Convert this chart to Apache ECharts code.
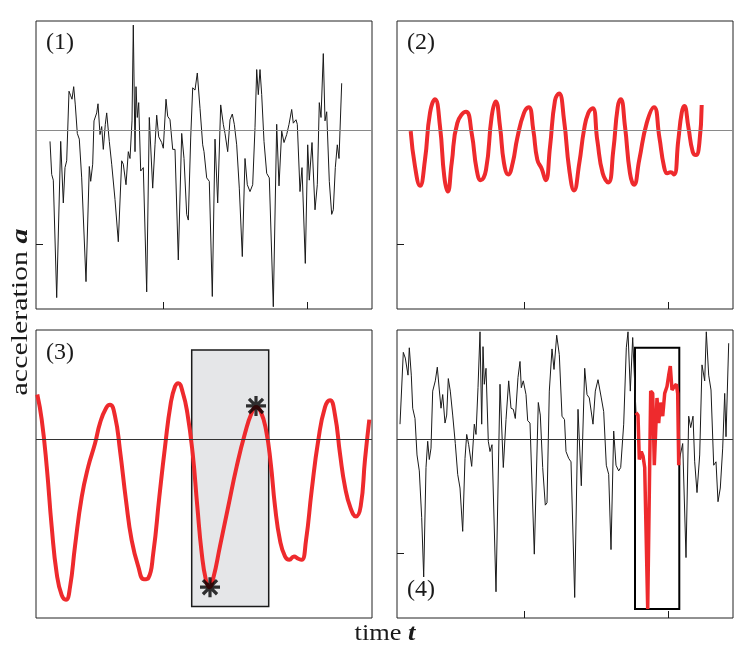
<!DOCTYPE html>
<html>
<head>
<meta charset="utf-8">
<script src="https://cdn.jsdelivr.net/npm/echarts@6/dist/echarts.min.js"></script>
<style>
  html, body { margin: 0; padding: 0; background: #fff; }
  #graph { width: 741px; height: 649px; }
</style>
</head>
<body>
<div id="graph"></div>
<script>
// time in samples from the left edge of each panel, acceleration in units of the axis tick
var p1Time = [14, 15.7, 17.3, 20.7, 24.7, 27.3, 29, 30.7, 33, 34.7, 36, 37.7, 39.3, 41.3, 43.3, 45.7, 50, 53.3, 54.7, 56.7,
    58, 60.7, 62, 64, 65.7, 67.3, 69.3, 70.7, 73.3, 75.7, 79, 82.3, 85.7, 87.3, 90, 92.3, 94, 96, 97.3, 99,
    100, 101.3, 102.7, 104.7, 107.3, 110.7, 113.3, 116.7, 119, 120.7, 122.7, 125.7, 127.3, 130, 131.7, 134, 136.7, 139, 142.3, 145.7,
    148, 150.7, 152.3, 154.7, 156.7, 159, 161.3, 164, 166.7, 168, 170.7, 173.3, 176.3, 179, 181.7, 184.7, 187.3, 189, 191.7, 194,
    196.3, 198.3, 200.7, 203.3, 206.3, 209, 211.3, 214, 216.7, 219, 220.7, 222.3, 224, 225.7, 228, 230.7, 233.3, 237.3, 240.7, 243,
    245.7, 248, 250.7, 253, 255.7, 257.3, 260, 261.3, 264, 266, 269.3, 271.7, 273.3, 276, 279, 281.3, 283.3, 285, 287.3, 289,
    290.7, 293.3, 295.7, 297.3, 299.3, 301.3, 303, 305.7];
var p1Acc = [-0.10, -0.39, -0.44, -1.47, -0.10, -0.64, -0.33, -0.27, 0.34, 0.30, 0.27, 0.38, 0.22, -0.03, -0.08, -0.42, -1.33, -0.32, -0.45, -0.30,
    0.08, 0.15, 0.23, -0.04, 0.03, -0.17, 0.05, 0.15, -0.10, -0.30, -0.61, -0.98, -0.27, -0.30, -0.48, -0.19, -0.25, 0.08, 0.92, -0.19,
    0.38, 0.11, 0.24, -0.36, -0.33, -1.42, 0.11, -0.51, -0.13, 0.13, -0.06, -0.11, -0.16, 0.27, 0.12, 0.09, -0.17, -0.17, -1.14, -0.03,
    -0.25, -0.74, -0.79, -0.07, 0.37, 0.35, 0.50, 0.19, -0.13, -0.19, -0.42, -0.45, -1.46, -0.08, -0.64, 0.22, 0.05, -0.03, -0.19, 0.09,
    0.14, 0.05, -0.13, -0.51, -1.11, -0.25, -0.48, -0.54, -0.48, 0.02, 0.53, 0.31, 0.53, 0.31, -0.10, -0.38, -0.42, -1.55, 0.05, -0.49,
    -0.01, -0.11, -0.04, 0.05, 0.18, 0.06, 0.09, 0.05, -0.54, -0.33, -1.17, -0.13, -0.44, -0.11, -0.70, -0.48, 0.24, 0.11, 0.67, 0.08,
    0.16, -0.45, -0.74, -0.70, -0.33, -0.13, -0.25, 0.41];

var p2Time = [13.7, 18, 23, 28, 33, 38, 43, 47.3, 50.7, 54.7, 60.3, 69, 74.7, 79.7, 83.7, 89, 94.7, 98.7, 103, 107,
    111.3, 115.7, 120.3, 127, 131.7, 136.3, 140.3, 144.7, 148.7, 153, 158, 162, 167, 172.3, 177, 182.3, 187, 191.3, 195.7, 200.3,
    205.7, 211.3, 216.3, 220.7, 223.7, 228, 233, 237, 242.3, 249.7, 257, 262.3, 267, 270.3, 273.7, 277, 281.3, 284.7, 287.3, 291.3,
    295.7, 299, 302.3, 304.7];
var p2Acc = [-0.01, -0.32, -0.49, -0.26, 0.15, 0.27, 0.03, -0.41, -0.54, -0.29, 0.06, 0.16, -0.03, -0.35, -0.44, -0.35, 0.12, 0.25, 0.03, -0.29,
    -0.39, -0.29, -0.07, 0.15, 0.20, 0.00, -0.26, -0.34, -0.44, -0.15, 0.26, 0.32, 0.09, -0.35, -0.53, -0.29, 0.00, 0.15, 0.19, -0.09,
    -0.38, -0.46, -0.18, 0.20, 0.27, 0.03, -0.38, -0.48, -0.26, 0.06, 0.20, -0.06, -0.32, -0.38, -0.37, -0.39, -0.09, 0.15, 0.21, 0.03,
    -0.19, -0.22, -0.12, 0.22];

var p3Time = [1.3, 5.7, 10.7, 15.7, 20.7, 25.7, 30, 34, 39, 45.7, 52.3, 59, 64, 70, 74, 79, 84, 90, 95.7, 102.3,
    108, 112.3, 117.3, 123.3, 129, 134.7, 139, 142.3, 146.7, 151.3, 156.7, 161.3, 165.7, 170, 173.3, 177.3, 184, 192.3, 200.7, 209,
    215.7, 220, 224.7, 230, 234.7, 239, 244, 249, 253.3, 258, 262.3, 265.7, 270, 275.7, 282.3, 289, 294, 299, 304, 309,
    314.7, 320, 324.7, 329, 333.3];
var p3Acc = [0.39, 0.17, -0.24, -0.77, -1.18, -1.37, -1.41, -1.30, -0.94, -0.51, -0.24, -0.04, 0.14, 0.27, 0.30, 0.20, -0.10, -0.54, -0.89, -1.12,
    -1.23, -1.22, -1.00, -0.51, -0.07, 0.31, 0.46, 0.49, 0.41, 0.23, -0.13, -0.59, -1.00, -1.24, -1.30, -1.22, -0.94, -0.59, -0.24, 0.05,
    0.23, 0.28, 0.24, 0.08, -0.21, -0.59, -0.89, -1.03, -1.06, -1.03, -1.05, -1.06, -0.89, -0.45, -0.01, 0.28, 0.34, 0.21, -0.13, -0.42,
    -0.61, -0.68, -0.59, -0.18, 0.17];
// marked extrema and the selected window
var p3StarTime = [174, 220];
var p3StarAcc = [-1.30, 0.29];
var p3Window = [155.7, 232.7, 0.78, -1.47];

var p4BeforeTime = [3, 6.3, 8.3, 10, 11, 12.3, 14.3, 15.7, 18, 20, 22.3, 24.7, 26.7, 29, 30.7, 32.3, 34, 35.7, 38.3, 40.3,
    42.3, 44, 45.7, 48, 49.7, 51.3, 53.3, 55.7, 58.3, 60.7, 63, 65.7, 68, 69.7, 71.7, 74.7, 77.3, 79, 81, 83,
    84.7, 86, 87.3, 89, 91.3, 93, 95, 99, 103, 106.3, 109, 111.7, 114, 116.3, 118.3, 121, 123, 124.3, 126.3, 129,
    130.7, 133, 137.3, 141.3, 143.3, 145.7, 148.3, 150, 152.3, 155, 157, 159.7, 162.3, 165, 167.5, 169, 171.7, 174, 177.7, 181,
    184.3, 187.7, 190, 192.3, 196, 198.3, 201, 204.3, 206.7, 209.3, 211.7, 214, 216.7, 219, 221.7, 223.7, 226.7, 229.3, 231, 233.3,
    235.7, 239];
var p4BeforeAcc = [0.13, 0.76, 0.71, 0.70, 0.56, 0.80, 0.56, 0.27, 0.18, -0.14, -0.28, -0.69, -1.21, -0.25, -0.02, -0.18, -0.08, 0.42, 0.51, 0.63,
    0.43, 0.27, 0.39, 0.14, 0.21, 0.53, 0.42, 0.21, -0.04, -0.31, -0.43, -0.81, -0.17, 0.04, -0.05, -0.24, 0.13, 0.04, 0.45, 0.94,
    0.13, 0.81, 0.48, 0.62, -0.02, -0.11, -0.05, -1.34, 0.48, -0.25, 0.17, 0.51, 0.27, 0.26, 0.18, 0.54, 0.68, 0.45, 0.51, 0.39,
    0.16, 0.14, -1.01, 0.32, 0.21, -0.25, -0.58, -0.56, 0.42, 0.79, 0.61, 0.91, 0.74, 0.20, 0.17, -0.11, -0.17, -0.20, -1.39, 0.26,
    -0.41, 0.62, 0.39, 0.36, 0.13, 0.42, 0.52, 0.36, 0.24, -0.23, -0.31, -0.97, 0.07, -0.23, -0.28, -0.25, 0.13, 0.80, 0.94, 0.42,
    0.89, 0.23];
var p4BoxTime = [239, 241, 242.3, 244.3, 246, 247.7, 250.7, 253.7, 255.7, 257.3, 260, 261.7, 263.3, 265.7, 267.7, 270, 271.7, 273.3, 275, 277.3,
    279.3, 280.7, 281.7];
var p4BoxAcc = [0.23, 0.21, -0.18, -0.11, -0.15, -0.25, -1.49, 0.42, 0.40, -0.23, 0.36, 0.14, 0.32, 0.20, 0.40, 0.46, 0.56, 0.64, 0.43, 0.46,
    0.48, 0.40, -0.23];
var p4AfterTime = [281.7, 283.3, 285.7, 289, 291.7, 293.7, 296, 297.7, 300, 302.7, 305, 307.7, 309.3, 311.7, 314, 316.7, 319, 321, 323.3, 325.7,
    327.7, 329, 331.7];
var p4AfterAcc = [-0.23, -0.14, -0.04, -1.04, 0.20, 0.10, 0.20, -0.20, -0.47, -0.14, 0.65, 0.51, 0.94, 0.56, 0.43, -0.23, -0.20, -0.55, -0.43, -0.08,
    0.40, 0.02, 0.84];
var p4Window = [238, 282.3, 0.80, -1.49];

var timeTicks = [127, 271];
var accTicks = [-1];
var panelLabels = ["(1)", "(2)", "(3)", "(4)"];

var red = "#ee2a2d";
var ink = "#1a1a1a";
var serif = '"Liberation Serif", "Times New Roman", serif';

function zip(t, a) {
    var out = [];
    for (var i = 0; i < t.length; i++) {
        out.push([t[i], a[i]]);
    }
    return out;
}

function zeroLine(color) {
    return {
        silent: true,
        symbol: "none",
        label: { show: false },
        lineStyle: { color: color, width: 1, type: "solid" },
        emphasis: { disabled: true },
        data: [{ yAxis: 0 }]
    };
}

var grids = [
    { left: 36, top: 21, width: 336, height: 288 },
    { left: 397, top: 21, width: 336, height: 288 },
    { left: 36, top: 330, width: 336, height: 288 },
    { left: 397, top: 330, width: 336, height: 288 }
];

var chart = echarts.init(document.getElementById("graph"));

var option = {
    backgroundColor: "#fff",
    animation: false,
    grid: grids.map(function(g) {
        return Object.assign({
            show: true,
            borderColor: "#222",
            borderWidth: 1,
            backgroundColor: "transparent",
            outerBoundsMode: "none"
        }, g);
    }),
    xAxis: grids.map(function(g, i) {
        return {
            gridIndex: i,
            type: "value",
            position: "bottom",
            min: 0,
            max: 336,
            axisLine: { show: false, onZero: false },
            axisLabel: { show: false },
            splitLine: { show: false },
            axisTick: {
                show: i !== 2,
                inside: true,
                length: 7,
                customValues: timeTicks,
                lineStyle: { color: ink, width: 1 }
            }
        };
    }),
    yAxis: grids.map(function(g, i) {
        return {
            gridIndex: i,
            type: "value",
            position: "left",
            min: -1.57,
            max: 0.956,
            axisLine: { show: false, onZero: false },
            axisLabel: { show: false },
            splitLine: { show: false },
            axisTick: {
                show: i !== 2,
                inside: true,
                length: 7,
                customValues: accTicks,
                lineStyle: { color: ink, width: 1 }
            }
        };
    }),
    graphic: [
        { type: "text", left: 46, top: 31, style: { text: panelLabels[0], font: "24px " + serif, fill: ink } },
        { type: "text", left: 407, top: 31, style: { text: panelLabels[1], font: "24px " + serif, fill: ink } },
        { type: "text", left: 46, top: 341, style: { text: panelLabels[2], font: "24px " + serif, fill: ink } },
        { type: "text", left: 407, top: 578, style: { text: panelLabels[3], font: "24px " + serif, fill: ink } },
        {
            type: "text",
            x: 21,
            y: 312,
            rotation: Math.PI / 2,
            scaleX: 1.3,
            style: {
                text: "{n|acceleration }{b|a}",
                align: "center",
                verticalAlign: "middle",
                rich: {
                    n: { fontFamily: serif, fontSize: 23, fill: ink },
                    b: { fontFamily: serif, fontSize: 23, fontWeight: "bold", fontStyle: "italic", fill: ink }
                }
            }
        },
        {
            type: "text",
            x: 385,
            y: 634,
            scaleX: 1.1,
            style: {
                text: "{n|time }{b|t}",
                align: "center",
                verticalAlign: "middle",
                rich: {
                    n: { fontFamily: serif, fontSize: 24, fill: ink },
                    b: { fontFamily: serif, fontSize: 24, fontWeight: "bold", fontStyle: "italic", fill: ink }
                }
            }
        }
    ],
    series: [
        {
            name: "raw 1",
            type: "line",
            xAxisIndex: 0,
            yAxisIndex: 0,
            data: zip(p1Time, p1Acc),
            symbol: "none",
            lineStyle: { color: ink, width: 1 },
            markLine: zeroLine("#8a8a8a"),
            z: 3
        },
        {
            name: "filtered 2",
            type: "line",
            xAxisIndex: 1,
            yAxisIndex: 1,
            data: zip(p2Time, p2Acc),
            symbol: "none",
            smooth: 0.5,
            lineStyle: { color: red, width: 4 },
            markLine: zeroLine("#8a8a8a"),
            z: 3
        },
        {
            name: "window 3",
            type: "line",
            xAxisIndex: 2,
            yAxisIndex: 2,
            data: [],
            z: 1,
            markArea: {
                silent: true,
                itemStyle: { color: "#e5e6e8", borderColor: ink, borderWidth: 1.5 },
                data: [[{ xAxis: p3Window[0], yAxis: p3Window[2] }, { xAxis: p3Window[1], yAxis: p3Window[3] }]]
            }
        },
        {
            name: "zero 3",
            type: "line",
            xAxisIndex: 2,
            yAxisIndex: 2,
            data: [],
            z: 2,
            markLine: zeroLine("#333")
        },
        {
            name: "filtered 3",
            type: "line",
            xAxisIndex: 2,
            yAxisIndex: 2,
            data: zip(p3Time, p3Acc),
            symbol: "none",
            smooth: 0.5,
            lineStyle: { color: red, width: 4 },
            z: 3
        },
        {
            name: "extrema",
            type: "scatter",
            xAxisIndex: 2,
            yAxisIndex: 2,
            data: zip(p3StarTime, p3StarAcc),
            symbol: "path://M-1.6,-10 L1.6,-10 L1.6,10 L-1.6,10 Z M-10,-1.6 L10,-1.6 L10,1.6 L-10,1.6 Z M-8.2,-5.9 L-5.9,-8.2 L8.2,5.9 L5.9,8.2 Z M5.9,-8.2 L8.2,-5.9 L-5.9,8.2 L-8.2,5.9 Z",
            symbolSize: 20,
            itemStyle: { color: "#000" },
            z: 5
        },
        {
            name: "raw 4a",
            type: "line",
            xAxisIndex: 3,
            yAxisIndex: 3,
            data: zip(p4BeforeTime, p4BeforeAcc),
            symbol: "none",
            lineStyle: { color: ink, width: 1 },
            markLine: zeroLine("#333"),
            z: 3
        },
        {
            name: "raw 4b",
            type: "line",
            xAxisIndex: 3,
            yAxisIndex: 3,
            data: zip(p4AfterTime, p4AfterAcc),
            symbol: "none",
            lineStyle: { color: ink, width: 1 },
            z: 3
        },
        {
            name: "window 4",
            type: "line",
            xAxisIndex: 3,
            yAxisIndex: 3,
            data: [],
            z: 2,
            markArea: {
                silent: true,
                itemStyle: { color: "rgba(0,0,0,0)", borderColor: "#000", borderWidth: 2 },
                data: [[{ xAxis: p4Window[0], yAxis: p4Window[2] }, { xAxis: p4Window[1], yAxis: p4Window[3] }]]
            }
        },
        {
            name: "selected 4",
            type: "line",
            xAxisIndex: 3,
            yAxisIndex: 3,
            data: zip(p4BoxTime, p4BoxAcc),
            symbol: "none",
            lineStyle: { color: red, width: 3.5 },
            z: 4
        }
    ]
};

chart.setOption(option);
</script>
</body>
</html>
